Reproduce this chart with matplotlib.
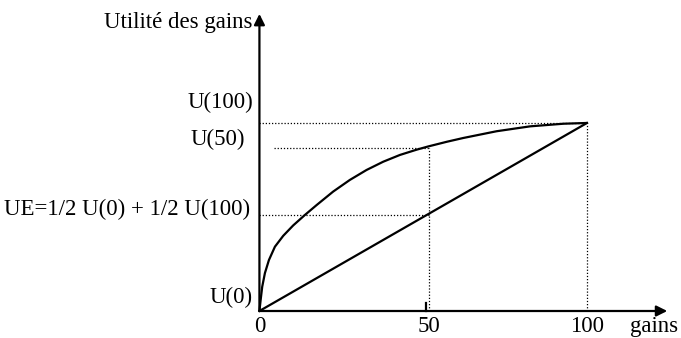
import matplotlib.pyplot as plt

plt.rcParams['font.family'] = ['Liberation Serif', 'DejaVu Serif']

# utility curve (gains on x, utility scaled so U(0)=0, U(100)=1)
gains = [0, 0.37, 0.85, 1.68, 2.9, 4.73, 7.27, 10.3, 13.9, 17.5, 22.5, 27.6,
         32.7, 37.8, 42.9, 48.0, 51.5, 57.2, 62.2, 72.4, 82.6, 92.8, 100]
utility = [0, 0.0585, 0.129, 0.202, 0.271, 0.342, 0.400, 0.455, 0.511, 0.564,
           0.635, 0.697, 0.750, 0.794, 0.830, 0.858, 0.875, 0.900, 0.920,
           0.956, 0.982, 0.996, 1.0]

x_50 = 51.8          # where the "50" mark sits on the drawn axis
u_50 = 0.866
u_100 = 1.0
u_e = 0.511          # expected utility level

tick_pos = [0, x_50, 100]
tick_labels = ['0', '50', '100']

fig = plt.figure(figsize=(6.81, 3.38), dpi=100)
ax = fig.add_axes([0, 0, 1, 1])
ax.set_xlim(-79.2, 128.7)
ax.set_ylim(-0.1436, 1.654)
ax.axis('off')

fs = 16.5
arrow = dict(arrowstyle='-|>', mutation_scale=16, lw=1.6, color='black',
             shrinkA=0, shrinkB=0)
ax.annotate('', xy=(0, 1.58), xytext=(0, 0), arrowprops=arrow)
ax.annotate('', xy=(124.5, 0), xytext=(0, 0), arrowprops=arrow)

# curve and chord
ax.plot(gains, utility, color='black', lw=1.6, solid_joinstyle='round',
        solid_capstyle='round')
ax.plot([0, 100], [0, u_100], color='black', lw=1.6)

# dotted guide lines
dot = dict(color='black', lw=0.9, ls=(0, (1, 1.5)))
ax.plot([0, 100], [u_100, u_100], **dot)
ax.plot([100, 100], [0, u_100], **dot)
ax.plot([4.6, x_50], [u_50, u_50], **dot)
ax.plot([x_50, x_50], [0, u_50], **dot)
ax.plot([0, x_50], [u_e, u_e], **dot)

# small tick under 50
ax.plot([x_50 - 0.9, x_50 - 0.9], [0, 0.045], color='black', lw=1.6)

for p, lab in zip(tick_pos, tick_labels):
    ax.text(p, -0.08, lab, ha='center', va='center', fontsize=fs)
ax.text(113, -0.08, 'gains', ha='left', va='center', fontsize=fs)

ax.text(-2, 1.534, 'Utilité des gains', ha='right', va='center', fontsize=fs)
ax.text(-2, 1.107, 'U(100)', ha='right', va='center', fontsize=fs)
ax.text(-4.3, 0.91, 'U(50)', ha='right', va='center', fontsize=fs)
ax.text(-2.7, 0.539, 'UE=1/2 U(0) + 1/2 U(100)', ha='right', va='center', fontsize=fs)
ax.text(-2, 0.074, 'U(0)', ha='right', va='center', fontsize=fs)

fig.savefig('out.png', dpi=100)
